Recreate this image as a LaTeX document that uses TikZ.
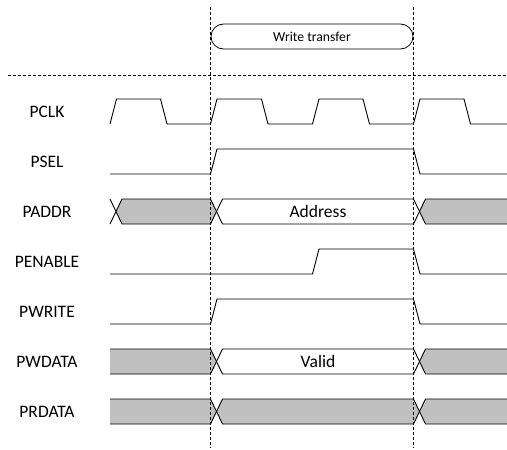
\documentclass[tikz,border=0pt]{standalone}
\usepackage{fontspec}
\setmainfont{Carlito}
\definecolor{busgrey}{RGB}{192,192,192}
\tikzset{
  sig/.style={line width=0.9pt, line join=miter},
  guide/.style={line width=0.6pt, dash pattern=on 3pt off 2pt},
  lbl/.style={font=\fontsize{17.5}{20}\selectfont, inner sep=0pt, anchor=center},
  smalllbl/.style={font=\fontsize{13.7}{16}\selectfont, inner sep=0pt, anchor=center},
  phasebox/.style={draw, line width=0.8pt, rounded corners=12.5pt, minimum width=202pt, minimum height=25pt, inner sep=0pt}
}
\begin{document}
\begin{tikzpicture}[x=1pt,y=-1pt]
\useasboundingbox (0,0) rectangle (507,450);

% phase box
\node[phasebox, smalllbl] (wt) at (312,36.5) {Write transfer};
\draw[guide] (8,75) -- (507,75);

% labels
\node[lbl] (lpclk) at (47,111.5) {PCLK};
\node[lbl] (lpsel) at (47,161.5) {PSEL};
\node[lbl] (lpaddr) at (47,211.5) {PADDR};
\node[lbl] (lpen) at (47,261.5) {PENABLE};
\node[lbl] (lpwr) at (47,311.5) {PWRITE};
\node[lbl] (lpwd) at (47,361.5) {PWDATA};
\node[lbl] (lprd) at (47,411.5) {PRDATA};

% PCLK
\draw[sig] (110,124) -- (116.5,99) -- (160.5,99) -- (167,124) -- (210.5,124) -- (217,99) -- (261.5,99) -- (268,124) -- (312.5,124) -- (319,99) -- (363,99) -- (369.5,124) -- (413.5,124) -- (420,99) -- (464,99) -- (470.5,124) -- (507,124);
% PSEL
\draw[sig] (110,174) -- (210.5,174) -- (217,149) -- (413.5,149) -- (420,174) -- (507,174);
% PENABLE
\draw[sig] (110,274) -- (312.5,274) -- (319,249) -- (413.5,249) -- (420,274) -- (507,274);
% PWRITE
\draw[sig] (110,324) -- (210.5,324) -- (217,299) -- (413.5,299) -- (420,324) -- (507,324);

% PADDR
\draw[sig] (110,199) -- (116,211.5) -- (110,224);
\filldraw[sig, fill=busgrey] (116,211.5) -- (122,199) -- (210.5,199) -- (216.5,211.5) -- (210.5,224) -- (122,224) -- cycle;
\draw[sig] (216.5,211.5) -- (222.5,199) -- (413.5,199) -- (419.5,211.5) -- (413.5,224) -- (222.5,224) -- cycle;
\fill[busgrey] (419.5,211.5) -- (425.5,199) -- (507,199) -- (507,224) -- (425.5,224) -- cycle;
\draw[sig] (507,199) -- (425.5,199) -- (419.5,211.5) -- (425.5,224) -- (507,224);
\node[lbl] (addr) at (318,211.5) {Address};

% PWDATA
\fill[busgrey] (110,349) -- (210.5,349) -- (216.5,361.5) -- (210.5,374) -- (110,374) -- cycle;
\draw[sig] (110,349) -- (210.5,349) -- (216.5,361.5) -- (210.5,374) -- (110,374);
\draw[sig] (216.5,361.5) -- (222.5,349) -- (413.5,349) -- (419.5,361.5) -- (413.5,374) -- (222.5,374) -- cycle;
\fill[busgrey] (419.5,361.5) -- (425.5,349) -- (507,349) -- (507,374) -- (425.5,374) -- cycle;
\draw[sig] (507,349) -- (425.5,349) -- (419.5,361.5) -- (425.5,374) -- (507,374);
\node[lbl] (valid) at (318,361.5) {Valid};

% PRDATA
\fill[busgrey] (110,399) -- (210.5,399) -- (216.5,411.5) -- (210.5,424) -- (110,424) -- cycle;
\draw[sig] (110,399) -- (210.5,399) -- (216.5,411.5) -- (210.5,424) -- (110,424);
\filldraw[sig, fill=busgrey] (216.5,411.5) -- (222.5,399) -- (413.5,399) -- (419.5,411.5) -- (413.5,424) -- (222.5,424) -- cycle;
\fill[busgrey] (419.5,411.5) -- (425.5,399) -- (507,399) -- (507,424) -- (425.5,424) -- cycle;
\draw[sig] (507,399) -- (425.5,399) -- (419.5,411.5) -- (425.5,424) -- (507,424);

% guides
\coordinate (g1t) at (210.5,7);
\coordinate (g1b) at (210.5,448);
\coordinate (g2t) at (413.5,7);
\coordinate (g2b) at (413.5,448);
\draw[guide] (g1t) -- (g1b);
\draw[guide] (g2t) -- (g2b);
\end{tikzpicture}
\end{document}
